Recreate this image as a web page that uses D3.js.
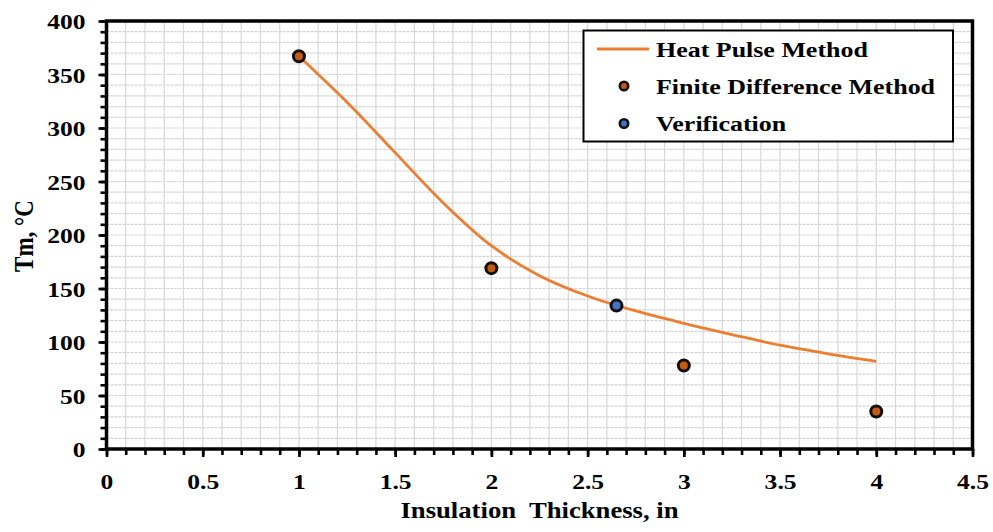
<!DOCTYPE html>
<html>
<head>
<meta charset="utf-8">
<script src="https://cdn.jsdelivr.net/npm/d3@7"></script>
<style>
  html, body { margin: 0; padding: 0; background: #fff; }
  svg { display: block; }
  text { font-family: "Liberation Serif", "Times New Roman", serif; font-weight: bold; fill: #000; }
</style>
</head>
<body>
<svg id="chart" width="993" height="532"></svg>
<script>
// Axis tick labels
const xTickValues = [0, 0.5, 1, 1.5, 2, 2.5, 3, 3.5, 4, 4.5];
const yTickValues = [0, 50, 100, 150, 200, 250, 300, 350, 400];

// Heat pulse method (smooth curve)
const heatPulseX  = [1, 1.25, 1.5, 1.75, 2, 2.25, 2.5, 2.75, 3, 3.25, 3.5, 3.75, 4];
const heatPulseTm = [367, 324, 277, 230, 190, 162, 143, 129, 117.5, 107, 97, 89, 82];

// Finite difference method points
const fdmX  = [1, 2, 3, 4];
const fdmTm = [367, 169, 78, 35];

// Verification point
const verX  = [2.65];
const verTm = [134];

const seriesNames = ["Heat Pulse Method", "Finite Difference Method", "Verification"];
const xTitle = "Insulation  Thickness, in";
const yTitle = "Tm, \u00B0C";

const ORANGE = "#ED7D31", DARK_ORANGE = "#C55A11", BLUE = "#4472C4";
const STRETCH = 1.16;   // wide glyph rendering of the labels

const svg = d3.select("#chart");
const plotLeft = 106.5, plotRight = 972.5, plotTop = 21, plotBottom = 449;

const x = d3.scaleLinear().domain([0, 4.5]).range([plotLeft, plotRight]);
const y = d3.scaleLinear().domain([0, 400]).range([plotBottom, plotTop]);

// grid
const grid = svg.append("g");
grid.selectAll("line.v").data(d3.range(1, 45).map(i => i / 10)).join("line")
  .attr("class", "v")
  .attr("x1", d => x(d)).attr("x2", d => x(d))
  .attr("y1", plotTop).attr("y2", plotBottom)
  .attr("stroke", "#d8d8d8").attr("stroke-width", 1.2);
grid.selectAll("line.h").data(d3.range(10, 400, 10)).join("line")
  .attr("class", "h")
  .attr("x1", plotLeft).attr("x2", plotRight)
  .attr("y1", d => y(d)).attr("y2", d => y(d))
  .attr("stroke", "#d2d2d2").attr("stroke-width", 1.2)
  .attr("stroke-dasharray", "3,1");

// minor ticks
const minorX = d3.axisBottom(x).tickValues(d3.range(0, 46).map(i => i / 10)).tickSize(6).tickFormat("");
const minorY = d3.axisLeft(y).tickValues(d3.range(0, 401, 10)).tickSize(6).tickFormat("");
svg.append("g").attr("transform", `translate(0,${plotBottom})`).call(minorX)
  .call(g => g.select(".domain").remove())
  .call(g => g.selectAll("line").attr("stroke", "#000").attr("stroke-width", 2.6));
svg.append("g").attr("transform", `translate(${plotLeft},0)`).call(minorY)
  .call(g => g.select(".domain").remove())
  .call(g => g.selectAll("line").attr("stroke", "#000").attr("stroke-width", 2.6));

// major ticks with labels
svg.append("g").attr("transform", `translate(0,${plotBottom})`)
  .call(d3.axisBottom(x).tickValues(xTickValues).tickSize(8).tickFormat(d3.format("")))
  .call(g => g.select(".domain").remove())
  .call(g => g.selectAll("line").attr("stroke", "#000").attr("stroke-width", 2.6))
  .call(g => g.selectAll("text")
    .attr("y", null).attr("dy", null)
    .attr("transform", `translate(0,40) scale(${STRETCH},1)`)
    .attr("font-size", 22).attr("fill", "#000"));
svg.append("g").attr("transform", `translate(${plotLeft},0)`)
  .call(d3.axisLeft(y).tickValues(yTickValues).tickSize(8).tickFormat(d3.format("")))
  .call(g => g.select(".domain").remove())
  .call(g => g.selectAll("line").attr("stroke", "#000").attr("stroke-width", 2.6))
  .call(g => g.selectAll("text")
    .attr("x", null).attr("dy", "0.36em")
    .attr("transform", `translate(-21,0) scale(${STRETCH},1)`)
    .attr("font-size", 22).attr("fill", "#000"));
svg.selectAll("g[font-family]").attr("font-family", null).attr("font-size", null);

// plot frame
svg.append("rect")
  .attr("x", plotLeft).attr("y", plotTop)
  .attr("width", plotRight - plotLeft).attr("height", plotBottom - plotTop)
  .attr("fill", "none").attr("stroke", "#000").attr("stroke-width", 3.5);

// heat pulse curve
const line = d3.line().x(d => x(d[0])).y(d => y(d[1])).curve(d3.curveCatmullRom.alpha(0.5));
svg.append("path")
  .datum(d3.zip(heatPulseX, heatPulseTm))
  .attr("d", line)
  .attr("fill", "none").attr("stroke", ORANGE).attr("stroke-width", 2.8);

// markers
function dots(xs, ys, fill) {
  svg.append("g").selectAll("circle").data(d3.zip(xs, ys)).join("circle")
    .attr("cx", d => x(d[0])).attr("cy", d => y(d[1]))
    .attr("r", 5.5).attr("fill", fill)
    .attr("stroke", "#111").attr("stroke-width", 3);
}
dots(fdmX, fdmTm, DARK_ORANGE);
dots(verX, verTm, BLUE);

// axis titles
svg.append("text")
  .attr("transform", `translate(${(plotLeft + plotRight) / 2},518) scale(${STRETCH},1)`)
  .attr("text-anchor", "middle").attr("font-size", 23)
  .style("white-space", "pre")
  .text(xTitle);
svg.append("text")
  .attr("transform", `translate(33,236) scale(${STRETCH},1) rotate(-90)`)
  .attr("text-anchor", "middle").attr("font-size", 23)
  .text(yTitle);

// legend
const lg = svg.append("g");
lg.append("rect").attr("x", 583.5).attr("y", 30.5).attr("width", 369.5).attr("height", 111)
  .attr("fill", "#fff").attr("stroke", "#000").attr("stroke-width", 2);
const rowY = [49, 86, 123.5];
lg.append("line").attr("x1", 597).attr("x2", 649).attr("y1", rowY[0]).attr("y2", rowY[0])
  .attr("stroke", ORANGE).attr("stroke-width", 3);
lg.append("circle").attr("cx", 624).attr("cy", rowY[1]).attr("r", 4.2)
  .attr("fill", DARK_ORANGE).attr("stroke", "#111").attr("stroke-width", 2.6);
lg.append("circle").attr("cx", 624).attr("cy", rowY[2]).attr("r", 4.2)
  .attr("fill", BLUE).attr("stroke", "#111").attr("stroke-width", 2.6);
seriesNames.forEach((name, i) => {
  lg.append("text")
    .attr("transform", `translate(656,${rowY[i] + 7.5}) scale(1.18,1)`)
    .attr("font-size", 22)
    .text(name);
});
</script>
</body>
</html>
